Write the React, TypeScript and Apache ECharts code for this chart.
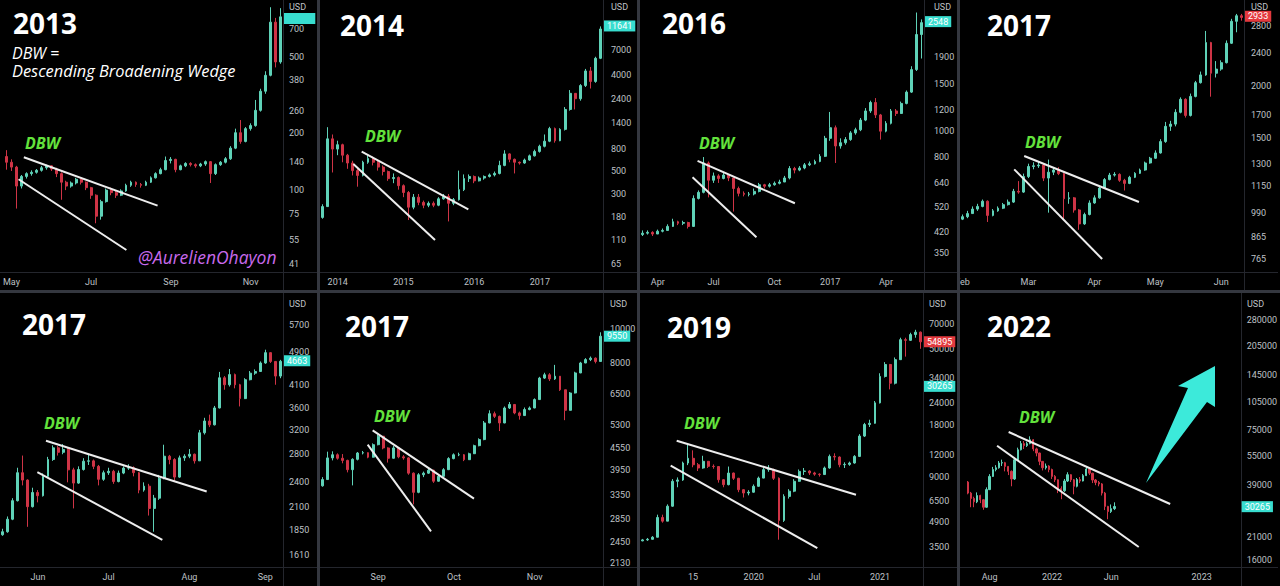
import React, { useEffect, useRef } from "react";
import * as echarts from "echarts";

// ---------- DATA ----------
// candles: [close, low, high]; open of each candle = previous close
const open2013 = 150;
const candles2013 = [
  [140,128,162],[132,126,145],[105,80,134],[118,102,120],[122,115,124],[124,119,127],[127,122,129],[131,125,134],[134,128,136],[129,126,135],
  [122,117,131],[110,89,124],[105,100,112],[109,103,111],[114,107,116],[110,107,115],[103,100,111],[94,90,104],[73,67,95],[87,70,89],
  [100,86,102],[97,94,103],[94,91,99],[99,93,101],[106,98,108],[110,104,112],[107,104,111],[106,103,109],[110,105,112],[116,109,118],
  [122,115,124],[128,121,131],[143,127,150],[145,138,149],[128,124,146],[134,127,136],[138,132,140],[136,133,140],[134,131,138],[137,132,139],
  [141,134,143],[122,109,142],[136,120,138],[140,134,142],[146,138,149],[166,144,170],[200,164,210],[180,175,233],[210,178,214],[218,205,224],
  [262,215,297],[330,258,340],[400,320,420],[760,395,910],[470,440,800],[810,460,900]
];
const open2014 = 180;
const candles2014 = [
  [228,175,240],[1000,600,1290],[800,480,1100],[880,700,960],[700,600,900],[590,520,720],[500,450,620],[450,352,520],[600,440,620],[650,580,700],
  [600,560,680],[540,500,620],[490,450,560],[420,400,500],[430,380,470],[360,330,440],[310,280,370],[225,170,320],[280,215,300],[250,235,300],
  [235,220,260],[245,225,255],[235,225,255],[270,230,280],[285,265,300],[245,165,300],[265,235,275],[330,260,500],[420,320,460],[440,390,460],
  [400,380,450],[425,395,440],[440,410,450],[455,430,470],[470,440,490],[560,460,620],[720,550,780],[640,600,730],[600,470,650],[590,570,610],
  [630,580,650],[690,620,710],[760,680,790],[850,740,880],[950,830,1100],[1250,930,1300],[960,920,1280],[1230,950,1260],[1900,1200,2000],[2700,1850,2900],
  [2400,1900,2700],[3200,2300,3300],[4400,3100,4600],[3500,3000,4800],[5800,3400,6000],[11000,5700,11641]
];
const open2016 = 410;
const candles2016 = [
  [415,405,425],[418,410,425],[412,405,422],[422,412,428],[425,418,432],[440,424,448],[458,438,470],[452,445,462],[455,445,462],[440,432,458],
  [560,438,575],[590,555,600],[760,585,800],[655,565,770],[680,640,700],[665,640,690],[685,660,700],[668,650,690],[610,500,670],[585,570,620],
  [580,570,595],[582,570,592],[595,575,610],[630,590,640],[622,610,635],[630,615,640],[638,625,648],[645,632,658],[668,645,680],[725,660,740],
  [715,695,735],[728,708,740],[748,720,760],[755,740,770],[770,750,782],[805,765,820],[940,800,960],[1030,920,1180],[880,760,1050],[905,860,940],
  [930,890,950],[985,920,1000],[1012,970,1030],[1100,1000,1120],[1190,1090,1220],[1280,1170,1300],[1150,1120,1330],[1000,930,1160],[1070,990,1090],[1190,1060,1210],
  [1165,1140,1210],[1270,1160,1290],[1400,1260,1420],[1700,1390,1750],[2300,1680,2780],[2548,1870,2620]
];
const open2017a = 955;
const candles2017a = [
  [968,950,980],[985,960,1000],[1010,985,1025],[1025,1000,1040],[1055,1020,1065],[975,940,1060],[1000,970,1010],[1015,995,1025],[1035,1010,1045],[1050,1030,1065],
  [1115,1045,1130],[1110,1100,1180],[1210,1105,1230],[1280,1200,1300],[1285,1260,1310],[1290,1270,1315],[1200,1180,1295],[1240,990,1330],[1255,1220,1270],[1230,1220,1275],
  [1070,950,1235],[1075,1040,1110],[1005,990,1080],[930,900,1010],[980,925,990],[1045,975,1060],[1075,1040,1090],[1135,1070,1145],[1190,1130,1200],[1220,1185,1235],
  [1225,1210,1240],[1185,1175,1232],[1165,1120,1195],[1205,1160,1215],[1232,1200,1240],[1255,1228,1265],[1305,1250,1315],[1340,1300,1350],[1380,1335,1400],[1470,1375,1490],
  [1600,1460,1640],[1620,1560,1650],[1730,1600,1760],[1860,1720,1880],[1700,1680,1870],[1890,1690,1920],[2040,1880,2060],[2130,2030,2170],[2550,2120,2720],[2150,1887,2560],
  [2200,2100,2300],[2280,2180,2310],[2540,2270,2580],[2870,2530,2910],[2960,2700,2990],[2933,2880,2990]
];
const open2017b = 1800;
const candles2017b = [
  [1830,1790,1860],[1960,1820,1990],[2170,1950,2200],[2530,2160,2600],[2430,2360,2780],[2100,1880,2440],[2270,2090,2330],[2230,2150,2300],[2480,2220,2520],[2720,2470,2760],
  [2900,2700,2940],[2830,2780,2930],[2875,2800,2960],[2570,2400,2900],[2390,2080,2600],[2575,2380,2620],[2695,2560,2740],[2700,2640,2790],[2620,2580,2720],[2440,2360,2640],
  [2530,2420,2560],[2550,2500,2600],[2410,2380,2570],[2525,2400,2560],[2595,2510,2620],[2600,2570,2650],[2530,2480,2620],[2300,2260,2540],[2350,2280,2400],[2080,2000,2380],
  [2200,1830,2240],[2450,2180,2500],[2770,2440,2950],[2720,2650,2790],[2470,2420,2740],[2745,2460,2780],[2770,2700,2800],[2800,2740,2880],[2700,2660,2810],[3150,2700,3200],
  [3360,3120,3420],[3290,3250,3480],[3610,3280,3650],[4260,3600,4400],[4100,3990,4300],[4335,4060,4470],[4100,4020,4360],[3800,3640,4120],[4215,3790,4250],[4370,4200,4420],
  [4410,4330,4460],[4620,4400,4660],[4890,4600,4970],[4660,4620,4900],[4300,4100,4650],[4663,4250,4700]
];
const open2017c = 3550;
const candles2017c = [
  [3700,3530,3760],[4270,3690,4450],[4360,4200,4460],[4260,4220,4400],[4200,4120,4380],[3950,3880,4220],[4230,3560,4260],[4410,4200,4440],[4420,4370,4470],[4290,4260,4430],
  [4660,4280,4700],[4930,4640,4980],[4560,4520,4900],[4260,4140,4580],[4560,4250,4620],[4300,4260,4570],[4270,4220,4350],[3860,3820,4290],[3400,3140,3880],[3820,3380,3860],
  [3860,3760,3900],[3935,3840,4000],[3660,3620,3950],[3780,3650,3820],[3950,3770,3990],[4250,3940,4290],[4360,4230,4400],[4360,4320,4420],[4220,4180,4380],[4390,4210,4420],
  [4630,4380,4660],[4820,4610,4860],[5380,4800,5450],[5720,5370,5850],[5620,5560,5800],[5380,5100,5650],[5940,5370,6000],[6080,5900,6180],[5750,5700,6100],[5650,5500,5800],
  [5880,5640,5960],[5940,5850,6000],[6280,5930,6330],[7240,6270,7300],[7400,7200,7500],[7200,7100,7480],[7330,7150,7900],[6700,6650,7340],[5850,5480,6700],[6560,5840,6600],
  [7490,6540,7550],[8000,7480,8060],[8180,7990,8260],[8260,8100,8350],[8080,7980,8300],[9550,8070,9800]
];
const open2019 = 3800;
const candles2019 = [
  [3850,3780,3900],[3880,3800,3950],[3990,3860,4050],[5200,3980,5400],[4950,4850,5400],[6050,4950,6200],[8450,6000,8700],[8600,7800,8900],[10800,8500,11000],[11500,10500,13800],
  [10550,10200,12800],[10100,9700,10800],[11050,10000,11900],[10330,10100,11100],[10300,10000,10600],[8630,8300,10350],[8080,7800,8700],[9440,8000,10300],[8800,8600,9500],[7550,7300,8850],
  [7220,6800,7600],[7300,7000,7500],[7900,7250,8100],[8820,7850,9000],[9880,8800,10100],[9900,9600,10500],[8800,8600,10000],[5000,3860,8900],[6900,4900,7100],[7400,6700,7600],
  [8450,7300,8700],[9650,8400,9900],[9700,9200,10100],[9450,9200,9800],[9300,9100,9600],[9250,9000,9400],[10100,9200,10300],[11800,10000,12100],[11700,11200,12300],[10550,10200,11800],
  [10600,10100,10900],[10800,10400,11000],[11800,10700,12000],[15500,11700,15900],[18100,15300,18500],[18400,17500,19300],[24200,18300,24800],[34500,24000,36000],[40500,34000,41800],[31500,29000,40800],
  [43200,31000,44500],[56500,43000,58000],[56000,45000,58000],[60500,55500,62000],[62500,58000,64500],[54895,50000,63000]
];
const open2022 = 40500;
const candles2022 = [
  [35500,35000,41000],[33300,30000,36000],[32000,30000,34000],[34500,31500,35800],[32800,31500,34800],[30000,29100,33000],[37000,29800,38000],[43300,36800,44500],
  [47000,43000,48500],[48000,46000,49500],[50800,47500,52000],[51000,49000,52900],[48800,46000,51500],[46000,44000,49000],[42000,38500,46500],[52800,41500,53500],
  [59500,52500,61000],[64000,59000,66000],[62500,60000,66000],[64000,61500,65500],[67000,63500,69800],[60100,58500,67500],[57200,55000,61000],[51800,49500,57500],
  [48000,46500,52000],[49000,47000,50500],[47000,45500,49500],[43300,42000,47500],[41600,40500,44000],[37500,35500,41800],[36500,33000,38500],[41000,36000,42000],
  [44200,40500,45500],[41600,40500,44500],[38500,35000,42000],[41700,38000,42500],[41000,40000,43000],[43700,40800,44500],[47300,43500,48500],[45000,44000,47500],
  [41500,40000,45200],[40300,39000,42000],[39600,38500,41000],[35500,34500,40000],[30300,29000,36000],[28500,26000,30500],[29500,28000,31000],[30265,29000,31800]
];

// price-axis ranges [bottom, top] and tick labels
const range2013 = [37.2, 993];
const range2014 = [54.7, 20700];
const range2016 = [297, 3097];
const range2017a = [711.7, 3231];
const range2017b = [1508, 6673];
const range2017c = [2075, 12460];
const range2019 = [2676, 101500];
const range2022 = [14720, 371400];

const yTicks2013 = [41, 55, 75, 100, 140, 200, 260, 380, 500, 700];
const yTicks2014 = [65, 110, 180, 300, 500, 800, 1400, 2400, 4000, 7000];
const yTicks2016 = [350, 420, 520, 640, 800, 1000, 1200, 1500, 1900];
const yTicks2017a = [765, 865, 990, 1150, 1300, 1500, 1700, 2000, 2400, 2800];
const yTicks2017b = [1610, 1850, 2100, 2400, 2800, 3200, 3600, 4100, 4900, 5700];
const yTicks2017c = [2130, 2450, 2850, 3350, 3950, 4550, 5300, 6500, 8000, 10000];
const yTicks2019 = [3500, 4900, 6500, 9000, 12000, 18000, 24000, 34000, 50000, 70000];
const yTicks2022 = [16000, 21000, 39000, 55000, 75000, 105000, 145000, 205000, 280000];

// time-axis labels [category index, label]
const xTicks2013 = [[1, "May"], [17, "Jul"], [33, "Sep"], [49, "Nov"]];
const xTicks2014 = [[3, "2014"], [16, "2015"], [30, "2016"], [43, "2017"]];
const xTicks2016 = [[3, "Apr"], [14, "Jul"], [26, "Oct"], [37, "2017"], [48, "Apr"]];
const xTicks2017a = [[0, "Feb"], [13, "Mar"], [26, "Apr"], [38, "May"], [51, "Jun"]];
const xTicks2017b = [[7, "Jun"], [21, "Jul"], [37, "Aug"], [52, "Sep"]];
const xTicks2017c = [[11, "Sep"], [26, "Oct"], [42, "Nov"]];
const xTicks2019 = [[10, "15"], [22, "2020"], [34, "Jul"], [47, "2021"]];
const xTicks2022 = [[9, "Aug"], [29, "2022"], [48, "Jun"], [77, "2023"]];

// wedge lines: [position in candle slots, price]
const upper2013 = [[3.99, 148.7], [30.83, 82.9]];
const lower2013 = [[2.93, 114], [24.57, 48.5]];
const upper2014 = [[8.25, 755], [29.35, 215]];
const lower2014 = [[6.6, 578], [22.76, 110]];
const upper2016 = [[11.35, 773.6], [30.54, 537]];
const lower2016 = [[10.36, 672], [22.96, 400.8]];
const upper2017a = [[12.66, 1356.8], [35.29, 1050.5]];
const lower2017a = [[10.69, 1259.8], [28.03, 765]];
const upper2017b = [[9.1, 3015], [40.9, 2283]];
const lower2017b = [[7.39, 2539], [32.12, 1751]];
const upper2017c = [[10.42, 5124], [30.47, 3261]];
const lower2017c = [[9.43, 4661], [21.97, 2627]];
const upper2019 = [[7.26, 14570], [42.74, 7057]];
const lower2019 = [[6.07, 10410], [35.09, 3451]];
const upper2022 = [[15.6, 73480], [67.4, 31170]];
const lower2022 = [[11.89, 62430], [57.32, 18670]];

// last-price tags [price, text, kind]
const tags2013 = [[801, "\u2007\u2007\u2007\u2007\u2007", "up"]];
const tags2014 = [[11641, "11641", "up"]];
const tags2016 = [[2548, "2548", "up"]];
const tags2017a = [[2933, "2933", "down"]];
const tags2017b = [[4663, "4663", "up"]];
const tags2017c = [[9550, "9550", "up"]];
const tags2019 = [[54895, "54895", "down"], [30265, "30265", "up"]];
const tags2022 = [[30265, "30265", "up"]];

const titles = ["2013", "2014", "2016", "2017", "2017", "2017", "2019", "2022"];

// ---------- STYLE / LAYOUT ----------
const UP = "#5fd2b8";
const DOWN = "#cf3446";
const TAG_UP = "#38ddcf";
const TAG_DOWN = "#e3393e";
const LABEL = "#bfc1c6";
const AXIS_FONT = 'Roboto, "Liberation Sans", sans-serif';
const TEXT_FONT = '"Open Sans", "Noto Sans", sans-serif';

const panels = [
  { candles: candles2013, open: open2013, start: 0, count: 56, range: range2013, yTicks: yTicks2013, xTicks: xTicks2013, upper: upper2013, lower: lower2013, tags: tags2013 },
  { candles: candles2014, open: open2014, start: 0, count: 56, range: range2014, yTicks: yTicks2014, xTicks: xTicks2014, upper: upper2014, lower: lower2014, tags: tags2014 },
  { candles: candles2016, open: open2016, start: 0, count: 56, range: range2016, yTicks: yTicks2016, xTicks: xTicks2016, upper: upper2016, lower: lower2016, tags: tags2016 },
  { candles: candles2017a, open: open2017a, start: 0, count: 56, range: range2017a, yTicks: yTicks2017a, xTicks: xTicks2017a, upper: upper2017a, lower: lower2017a, tags: tags2017a },
  { candles: candles2017b, open: open2017b, start: 0, count: 56, range: range2017b, yTicks: yTicks2017b, xTicks: xTicks2017b, upper: upper2017b, lower: lower2017b, tags: tags2017b },
  { candles: candles2017c, open: open2017c, start: 0, count: 56, range: range2017c, yTicks: yTicks2017c, xTicks: xTicks2017c, upper: upper2017c, lower: lower2017c, tags: tags2017c },
  { candles: candles2019, open: open2019, start: 0, count: 56, range: range2019, yTicks: yTicks2019, xTicks: xTicks2019, upper: upper2019, lower: lower2019, tags: tags2019 },
  { candles: candles2022, open: open2022, start: 2, count: 90, range: range2022, yTicks: yTicks2022, xTicks: xTicks2022, upper: upper2022, lower: lower2022, tags: tags2022 },
];

const layout = [
  { col: 0, row: 0, plotW: 283, margin: 6, title: [13, 23], dbw: [25, 142.5], barW: 2.4 },
  { col: 1, row: 0, plotW: 283, margin: 8, title: [340, 25], dbw: [365, 135.5], barW: 2.4 },
  { col: 2, row: 0, plotW: 284, margin: 10, title: [662, 23], dbw: [699, 143], barW: 2.4 },
  { col: 3, row: 0, plotW: 284, margin: 7, title: [987, 25], dbw: [1025, 141.7], barW: 2.4 },
  { col: 0, row: 1, plotW: 283, margin: 6, title: [22, 324], dbw: [44, 423], barW: 2.4 },
  { col: 1, row: 1, plotW: 283, margin: 7, title: [345, 326], dbw: [374, 416], barW: 2.4 },
  { col: 2, row: 1, plotW: 283, margin: 6, title: [667, 327], dbw: [684, 423], barW: 2.4 },
  { col: 3, row: 1, plotW: 281, margin: 6, title: [987, 326], dbw: [1019, 416.7], barW: 1.8 },
];

const lg = (v: number) => Math.log10(v);

function buildOption() {
  const grid: any[] = [];
  const xAxis: any[] = [];
  const yAxis: any[] = [];
  const series: any[] = [];
  const graphic: any[] = [];

  panels.forEach((p, k) => {
    const L = layout[k];
    const px = L.col * 320;
    const top = L.row === 0 ? 0 : 296;
    const h = L.row === 0 ? 272 : 271;
    grid.push({ left: px, top, width: L.plotW, height: h, containLabel: false });

    const cats = Array.from({ length: p.count }, (_, i) => String(i));
    const tickMap = new Map<number, string>(p.xTicks.map((t: any) => [t[0], t[1]]));
    xAxis.push({
      type: "category", gridIndex: k, data: cats, boundaryGap: true,
      axisLine: { show: false }, axisTick: { show: false }, splitLine: { show: false },
      axisLabel: {
        interval: (i: number) => tickMap.has(i),
        formatter: (_v: string, i: number) => tickMap.get(i) ?? "",
        color: LABEL, fontSize: 9, fontFamily: AXIS_FONT, margin: 5,
      },
    });
    xAxis.push({ type: "value", gridIndex: k, min: 0, max: p.count, show: false });
    yAxis.push({
      type: "value", gridIndex: k, position: "right",
      min: lg(p.range[0]), max: lg(p.range[1]),
      axisLine: { show: false }, axisTick: { show: false }, splitLine: { show: false },
      axisLabel: {
        customValues: p.yTicks.map(lg),
        formatter: (v: number) => String(Math.round(Math.pow(10, v))),
        color: LABEL, fontSize: 9, fontFamily: AXIS_FONT, margin: L.margin,
      },
    });

    let prev = p.open;
    const data = p.candles.map((row: number[], i: number) => {
      const o = prev;
      prev = row[0];
      return [p.start + i, lg(o), lg(row[0]), lg(row[1]), lg(row[2])];
    });
    series.push({
      type: "candlestick", xAxisIndex: 2 * k, yAxisIndex: k,
      dimensions: ["x", "open", "close", "low", "high"],
      encode: { x: "x", y: ["open", "close", "low", "high"] },
      data, barWidth: L.barW, silent: true,
      itemStyle: { color: UP, color0: DOWN, borderColor: UP, borderColor0: DOWN, borderWidth: 1 },
    });
    const lineStyle = { color: "#ededed", width: 2 };
    series.push({
      type: "line", xAxisIndex: 2 * k + 1, yAxisIndex: k, silent: true, z: 4,
      data: p.upper.map((q: number[]) => [q[0], lg(q[1])]),
      symbol: "none", lineStyle,
      markLine: {
        silent: true, symbol: ["none", "none"], animation: false,
        lineStyle: { color: "rgba(0,0,0,0)", width: 1, type: "solid" },
        data: p.tags.map((t: any) => ({
          yAxis: lg(t[0]),
          lineStyle: { color: "rgba(0,0,0,0)", width: 1, type: "solid" },
          label: {
            show: true, position: "end", distance: 1, formatter: t[1],
            color: "#ffffff", backgroundColor: t[2] === "up" ? TAG_UP : TAG_DOWN,
            fontSize: 9, fontFamily: AXIS_FONT, padding: [1, 3, 1, 3], lineHeight: 9,
          },
        })),
      },
    });
    series.push({
      type: "line", xAxisIndex: 2 * k + 1, yAxisIndex: k, silent: true, z: 4,
      data: p.lower.map((q: number[]) => [q[0], lg(q[1])]),
      symbol: "none", lineStyle,
    });

    // panel divider lines (price axis / time axis borders)
    const axX = px + L.plotW + 0.5;
    const panelTop = L.row === 0 ? 0 : 293;
    const panelBottom = L.row === 0 ? 290 : 586;
    graphic.push({ type: "line", z: 1, silent: true, shape: { x1: axX, y1: panelTop, x2: axX, y2: panelBottom }, style: { stroke: "#24262d", lineWidth: 1 } });
    graphic.push({ type: "line", z: 1, silent: true, shape: { x1: px, y1: top + h + 0.5, x2: px + 318, y2: top + h + 0.5 }, style: { stroke: "#24262d", lineWidth: 1 } });
    // USD
    graphic.push({ type: "text", z: 20, silent: true, style: { text: "USD", x: px + L.plotW + L.margin, y: L.row === 0 ? 6.5 : 303.5, fill: LABEL, fontSize: 9, fontFamily: AXIS_FONT, align: "left", verticalAlign: "middle" } });
    // titles
    graphic.push({ type: "text", z: 20, silent: true, style: { text: titles[k], x: L.title[0], y: L.title[1], fill: "#ffffff", fontSize: 28, fontWeight: "bold", fontFamily: TEXT_FONT, align: "left", verticalAlign: "middle" } });
    graphic.push({ type: "text", z: 20, silent: true, style: { text: "DBW", x: L.dbw[0], y: L.dbw[1], fill: "#63e23c", fontSize: 16, fontWeight: "bold", fontStyle: "italic", fontFamily: TEXT_FONT, align: "left", verticalAlign: "middle" } });
  });

  // annotation texts in first panel
  graphic.push({ type: "text", z: 20, silent: true, style: { text: "DBW =", x: 12, y: 53, fill: "#ffffff", fontSize: 16, fontStyle: "italic", fontFamily: TEXT_FONT, align: "left", verticalAlign: "middle" } });
  graphic.push({ type: "text", z: 20, silent: true, style: { text: "Descending Broadening Wedge", x: 12, y: 70, fill: "#ffffff", fontSize: 16.4, fontStyle: "italic", fontFamily: TEXT_FONT, align: "left", verticalAlign: "middle" } });
  graphic.push({ type: "text", z: 20, silent: true, style: { text: "@AurelienOhayon", x: 138, y: 257, fill: "#c86aec", fontSize: 17.5, fontStyle: "italic", fontFamily: TEXT_FONT, align: "left", verticalAlign: "middle" } });

  // arrow in last panel
  graphic.push({
    type: "polygon", z: 20, silent: true,
    shape: { points: [[1215, 366], [1215, 407], [1207, 402], [1146, 483], [1188, 388], [1178, 386]] },
    style: { fill: "#3ceada" },
  });

  // mask for cut-off label at left edge of fourth panel
  graphic.push({ type: "rect", z: 30, silent: true, shape: { x: 930, y: 275, width: 27, height: 14 }, style: { fill: "#000000" } });
  // separators
  [317, 637, 957].forEach((x) => graphic.push({ type: "rect", z: 40, silent: true, shape: { x, y: 0, width: 3, height: 586 }, style: { fill: "#34373f" } }));
  graphic.push({ type: "rect", z: 40, silent: true, shape: { x: 0, y: 290, width: 1280, height: 3 }, style: { fill: "#34373f" } });

  return {
    animation: false,
    backgroundColor: "#000000",
    grid, xAxis, yAxis, series, graphic,
  };
}

export default function App() {
  const ref = useRef<HTMLDivElement>(null);
  useEffect(() => {
    if (!ref.current) return;
    const chart = echarts.init(ref.current, undefined, { renderer: "svg" });
    chart.setOption(buildOption() as any);
    return () => chart.dispose();
  }, []);
  return (
    <div
      ref={ref}
      style={{ position: "fixed", left: 0, top: 0, width: 1280, height: 586, background: "#000" }}
    />
  );
}
